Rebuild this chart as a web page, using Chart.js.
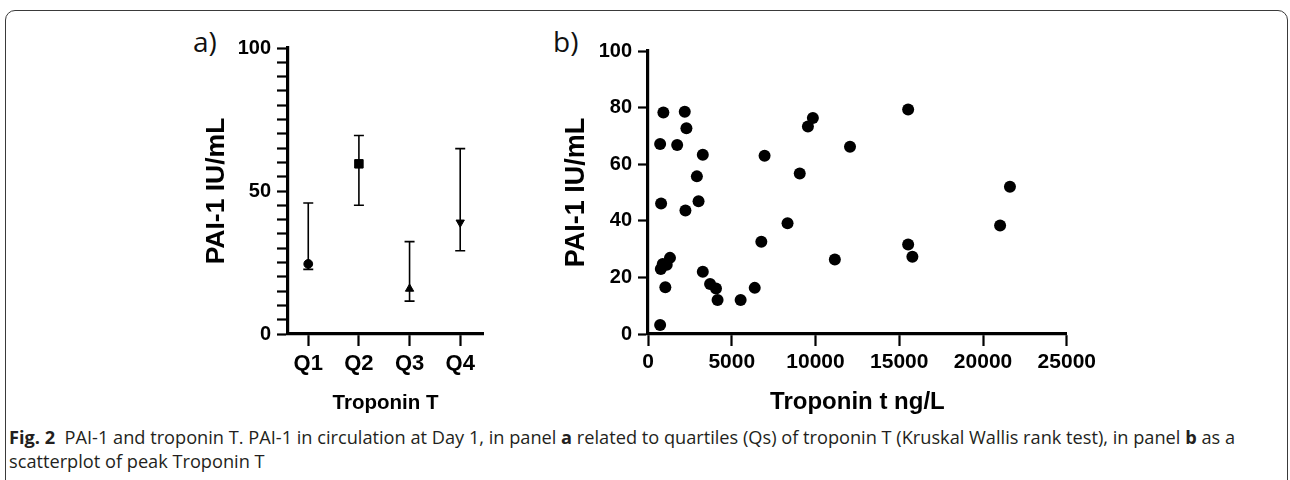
<!DOCTYPE html>
<html>
<head>
<meta charset="utf-8">
<script src="https://cdn.jsdelivr.net/npm/chart.js@4.4.0/dist/chart.umd.min.js"></script>
<style>
  html, body { margin: 0; padding: 0; background: #fff; }
  body { width: 1290px; height: 480px; position: relative; overflow: hidden; }
  .frame { position: absolute; left: 5px; top: 10px; width: 1283px; height: 520px;
           border: 1.3px solid #3a3a3a; border-radius: 10px; box-sizing: border-box; }
  canvas { position: absolute; }
  #chartA { left: 180px; top: 30px; }
  #chartB { left: 540px; top: 30px; }
  .tag { position: absolute; top: 27px; font-family: 'Open Sans', sans-serif; font-size: 28px;
         line-height: 28px; color: #111; }
  .caption { position: absolute; left: 9px; font-family: 'Open Sans', sans-serif; font-size: 18.5px;
             line-height: 24px; white-space: nowrap; transform-origin: 0 0; color: #231f20; }
</style>
</head>
<body>
<div class="frame"></div>
<div class="tag" style="left:193px">a)</div>
<div class="tag" style="left:553px">b)</div>
<canvas id="chartA" width="320" height="390"></canvas>
<canvas id="chartB" width="560" height="390"></canvas>
<div class="caption" id="cap1" style="top:425px"><b>Fig. 2</b>&nbsp;&nbsp;PAI-1 and troponin T. PAI-1 in circulation at Day 1, in panel <b>a</b> related to quartiles (Qs) of troponin T (Kruskal Wallis rank test), in panel <b>b</b> as a</div>
<div class="caption" id="cap2" style="top:449px">scatterplot of peak Troponin T</div>

<script>
// panel a: median + range per troponin quartile
const quartiles = ['Q1', 'Q2', 'Q3', 'Q4'];
const pai1Median = [24.5, 59.5, 15.8, 39.0];
const pai1Low = [22.6, 45.0, 11.5, 29.1];
const pai1High = [45.8, 69.4, 32.3, 64.8];
const quartileMarkers = ['circle', 'rect', 'triangle', 'triangle'];
const quartileRotation = [0, 0, 0, 180];
const quartileRadius = [4.4, 6, 4.8, 4.8];

// panel b: scatter, peak troponin T vs PAI-1
const troponinT = [918, 2194, 2294, 724, 1741, 3271, 6959, 2918, 9059, 782, 2235, 3018, 8330, 9547, 9841,
                   12059, 15529, 21606, 21018, 15529, 15782, 724, 882, 765, 1118, 1312, 1035, 3271, 3706,
                   4059, 4153, 5529, 6371, 6765, 11153];
const pai1 = [78.3, 78.5, 72.7, 67.1, 66.8, 63.3, 63.0, 55.7, 56.7, 46.1, 43.6, 46.9, 39.1, 73.3, 76.3,
              66.2, 79.3, 52.0, 38.3, 31.6, 27.3, 3.2, 24.7, 23.0, 24.5, 26.9, 16.5, 22.0, 17.7,
              16.1, 12.0, 12.0, 16.3, 32.6, 26.3];

Chart.defaults.font.family = "'Liberation Sans', Arial, sans-serif";
Chart.defaults.color = '#000';

// whiskers drawn through the chart's own scales
const errorBars = {
    id: 'errorBars',
    beforeDatasetsDraw(chart) {
        const { ctx, scales: { x, y } } = chart;
        ctx.save();
        ctx.strokeStyle = '#000';
        ctx.lineWidth = 1.6;
        quartiles.forEach((q, i) => {
            const px = x.getPixelForValue(i + 1);
            const top = y.getPixelForValue(pai1High[i]);
            const bot = y.getPixelForValue(pai1Low[i]);
            ctx.beginPath();
            ctx.moveTo(px, top); ctx.lineTo(px, bot);
            ctx.moveTo(px - 5, top); ctx.lineTo(px + 5, top);
            ctx.moveTo(px - 5, bot); ctx.lineTo(px + 5, bot);
            ctx.stroke();
        });
        ctx.restore();
    }
};

function axisGrid(len) {
    return { drawOnChartArea: false, tickLength: len, tickWidth: 2.2, tickColor: '#000' };
}
const axisBorder = { width: 3.2, color: '#000' };

new Chart(document.getElementById('chartA'), {
    type: 'scatter',
    data: {
        datasets: [{
            data: pai1Median.map((v, i) => ({ x: i + 1, y: v })),
            pointStyle: quartileMarkers,
            rotation: quartileRotation,
            radius: quartileRadius,
            backgroundColor: '#000',
            borderColor: '#000',
            borderWidth: 1
        }]
    },
    options: {
        responsive: false,
        animation: false,
        layout: { padding: { top: 15, right: 17, left: 0, bottom: 0 } },
        plugins: { legend: { display: false }, tooltip: { enabled: false } },
        scales: {
            x: {
                type: 'linear', min: 0.6, max: 4.45,
                afterFit: s => { s.height = 86; },
                ticks: { stepSize: 1, includeBounds: false, padding: 5,
                         font: { size: 22, weight: 'bold' },
                         callback: v => quartiles[v - 1] },
                grid: axisGrid(12),
                border: axisBorder,
                title: { display: true, text: 'Troponin T', font: { size: 20.5, weight: 'bold' },
                         padding: { bottom: 4 } }
            },
            y: {
                min: 0, max: 100,
                afterFit: s => { s.width = 108; },
                ticks: { stepSize: 5, autoSkip: false, padding: 6,
                         font: { size: 20, weight: 'bold' },
                         callback: v => (v % 50 === 0 ? String(v) : '') },
                grid: axisGrid(11),
                border: axisBorder,
                title: { display: true, text: 'PAI-1 IU/mL', font: { size: 26.5, weight: 'bold' },
                         padding: { top: 21 } }
            }
        }
    },
    plugins: [errorBars]
});

new Chart(document.getElementById('chartB'), {
    type: 'scatter',
    data: {
        datasets: [{
            data: troponinT.map((t, i) => ({ x: t, y: pai1[i] })),
            radius: 6,
            backgroundColor: '#000',
            borderColor: '#000',
            borderWidth: 0
        }]
    },
    options: {
        responsive: false,
        animation: false,
        layout: { padding: { top: 21, right: 28, left: 0, bottom: 0 } },
        plugins: { legend: { display: false }, tooltip: { enabled: false } },
        scales: {
            x: {
                min: 0, max: 25000,
                afterFit: s => { s.height = 86; },
                ticks: { stepSize: 5000, padding: 4, font: { size: 21, weight: 'bold' },
                         callback: v => String(v) },
                grid: axisGrid(12),
                border: axisBorder,
                title: { display: true, text: 'Troponin t ng/L', font: { size: 24, weight: 'bold' },
                         padding: { bottom: 3 } }
            },
            y: {
                min: 0, max: 100,
                afterFit: s => { s.width = 108; },
                ticks: { stepSize: 20, padding: 6, font: { size: 20, weight: 'bold' },
                         callback: v => String(v) },
                grid: axisGrid(10),
                border: axisBorder,
                title: { display: true, text: 'PAI-1 IU/mL', font: { size: 27, weight: 'bold' },
                         padding: { top: 20 } }
            }
        }
    }
});

// squeeze the caption to the width of the printed one
const cap1 = document.getElementById('cap1');
const squeeze = 1226 / cap1.getBoundingClientRect().width;
document.querySelectorAll('.caption').forEach(el => {
    el.style.transform = 'scaleX(' + squeeze + ')';
});
</script>
</body>
</html>
